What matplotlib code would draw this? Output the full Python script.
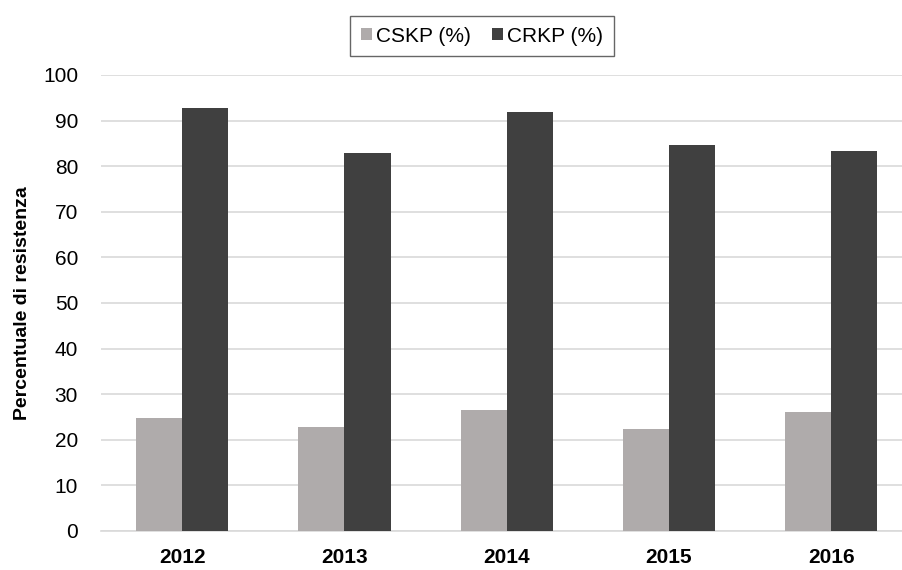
import numpy as np
import matplotlib.pyplot as plt

plt.rcParams['font.family'] = ['Liberation Sans', 'DejaVu Sans']

years = ['2012', '2013', '2014', '2015', '2016']
cskp = [24.7, 22.8, 26.5, 22.3, 26.1]
crkp = [92.7, 83.0, 91.8, 84.6, 83.3]

fig = plt.figure(figsize=(9.02, 5.70), dpi=100)
ax = fig.add_axes([101 / 902, 39 / 570, 801 / 902, 456 / 570])

x = np.arange(len(years))
w = 0.284
ax.bar(x - w / 2, cskp, w, color='#AFABAB', label='CSKP (%)', zorder=3)
ax.bar(x + w / 2, crkp, w, color='#404040', label='CRKP (%)', zorder=3)

ax.set_ylim(0, 100)
ax.set_xlim(-0.5, -0.5 + 801 / 162.3)
ax.set_yticks(range(0, 101, 10))
ax.set_xticks(x)
ax.set_xticklabels(years, fontsize=15, fontweight='bold')
ax.tick_params(axis='y', labelsize=15, length=0, pad=16.5)
ax.tick_params(axis='x', length=0, pad=12)
ax.grid(axis='y', color='#D9D9D9', linewidth=1.2, zorder=0)
for s in ['top', 'right', 'left']:
    ax.spines[s].set_visible(False)
ax.spines['bottom'].set_color('#D9D9D9')
ax.spines['bottom'].set_linewidth(1.2)

ax.set_ylabel('Percentuale di resistenza', fontsize=14, fontweight='bold')
ax.yaxis.set_label_coords(-0.087, 0.5)

leg = fig.legend(loc='center', bbox_to_anchor=(482 / 902, 1 - 36 / 570), ncol=2,
                 fontsize=15, frameon=True, fancybox=False, handlelength=0.55,
                 handleheight=0.55, handletextpad=0.2, columnspacing=1.0,
                 borderpad=0.5)
leg.get_frame().set_edgecolor('#404040')
leg.get_frame().set_linewidth(1.0)

fig.savefig('out.png', dpi=100)
